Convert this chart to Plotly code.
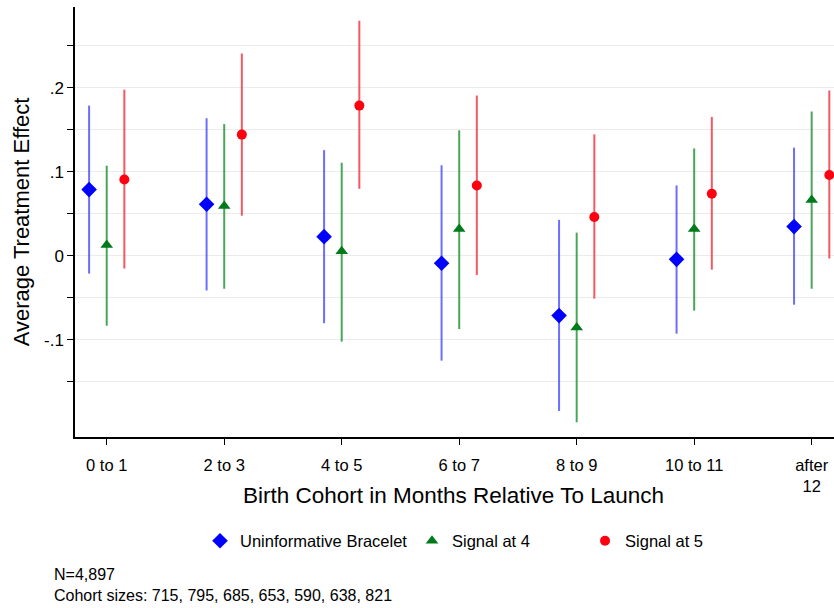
import plotly.graph_objects as go

categories = ["0 to 1", "2 to 3", "4 to 5", "6 to 7", "8 to 9", "10 to 11", "after<br>12"]
positions = [1, 2, 3, 4, 5, 6, 7]

series_names = ["Uninformative Bracelet", "Signal at 4", "Signal at 5"]

blue_est = [0.079, 0.0615, 0.023, -0.0087, -0.071, -0.004, 0.035]
blue_lo = [-0.021, -0.041, -0.080, -0.1246, -0.1845, -0.0925, -0.058]
blue_hi = [0.179, 0.164, 0.126, 0.108, 0.043, 0.084, 0.129]

green_est = [0.013, 0.0595, 0.0056, 0.032, -0.085, 0.032, 0.0667]
green_lo = [-0.083, -0.039, -0.102, -0.087, -0.198, -0.065, -0.039]
green_hi = [0.1075, 0.157, 0.111, 0.1496, 0.0278, 0.128, 0.172]

red_est = [0.091, 0.1445, 0.179, 0.084, 0.0464, 0.074, 0.0964]
red_lo = [-0.015, 0.048, 0.080, -0.0226, -0.0508, -0.0163, -0.003]
red_hi = [0.198, 0.241, 0.280, 0.191, 0.1448, 0.1655, 0.197]

y_tickvals = [-0.15, -0.1, -0.05, 0, 0.05, 0.1, 0.15, 0.2, 0.25]
y_ticktext = ["", "-.1", "", "0", "", ".1", "", ".2", ""]

x_title = "Birth Cohort in Months Relative To Launch"
y_title = "Average Treatment Effect"
note_lines = ["N=4,897", "Cohort sizes: 715, 795, 685, 653, 590, 638, 821"]

FONT = "Liberation Sans, Arial, Helvetica, sans-serif"

specs = [
    (series_names[0], blue_est, blue_lo, blue_hi, -0.15, "diamond", 12, "#0000ff", "rgba(60,60,255,0.75)", "legend", 0.1647),
    (series_names[1], green_est, green_lo, green_hi, 0.0, "triangle-up", 11, "#007a1a", "rgba(40,150,60,0.85)", "legend2", 0.444),
    (series_names[2], red_est, red_lo, red_hi, 0.15, "circle", 10, "#ff0010", "rgba(240,60,70,0.85)", "legend3", 0.672),
]

fig = go.Figure()
legend_layout = {}
for name, est, lo, hi, off, sym, size, mcol, lcol, leg, lx in specs:
    fig.add_trace(go.Scatter(
        x=[p + off for p in positions],
        y=est,
        mode="markers",
        name=name,
        legend=leg,
        marker=dict(symbol=sym, size=size, color=mcol, line=dict(width=0)),
        error_y=dict(
            type="data",
            symmetric=False,
            array=[h - e for h, e in zip(hi, est)],
            arrayminus=[e - l for e, l in zip(est, lo)],
            thickness=2,
            width=0,
            color=lcol,
        ),
        cliponaxis=False,
    ))
    legend_layout[leg] = dict(
        orientation="h",
        x=lx,
        xanchor="left",
        y=-0.242,
        yanchor="middle",
        font=dict(size=16.5),
        itemwidth=30,
        bgcolor="rgba(0,0,0,0)",
    )

fig.update_layout(
    width=834,
    height=608,
    margin=dict(l=75, r=0, t=7, b=171),
    paper_bgcolor="white",
    plot_bgcolor="white",
    font=dict(family=FONT, size=16, color="black"),
    showlegend=True,
    xaxis=dict(
        range=[0.73, 7.19],
        tickvals=positions,
        ticktext=categories,
        showgrid=False,
        zeroline=False,
        showline=True,
        linecolor="black",
        linewidth=1.5,
        ticks="outside",
        ticklen=6,
        tickcolor="black",
        tickfont=dict(size=16.5),
        ticklabelstandoff=6,
    ),
    yaxis=dict(
        range=[-0.2155, 0.2964],
        tickvals=y_tickvals,
        ticktext=y_ticktext,
        showgrid=True,
        gridcolor="#ebebeb",
        gridwidth=1,
        zeroline=False,
        showline=True,
        linecolor="black",
        linewidth=1.5,
        ticks="outside",
        ticklen=6,
        tickcolor="black",
        tickfont=dict(size=17),
        title=dict(text=y_title, font=dict(size=22), standoff=8),
    ),
    annotations=[
        dict(
            text=x_title,
            xref="paper", yref="paper",
            x=(453 - 75) / 759, y=-0.137,
            xanchor="center", yanchor="middle",
            showarrow=False,
            font=dict(size=22.5),
        ),
        dict(
            text=note_lines[0],
            xref="paper", yref="paper",
            x=-0.0303, y=-0.3205,
            xanchor="left", yanchor="middle",
            align="left", showarrow=False,
            font=dict(size=16),
        ),
        dict(
            text=note_lines[1],
            xref="paper", yref="paper",
            x=-0.0303, y=-0.3675,
            xanchor="left", yanchor="middle",
            align="left", showarrow=False,
            font=dict(size=16),
        ),
    ],
    **legend_layout,
)

fig.write_html("out.html")
